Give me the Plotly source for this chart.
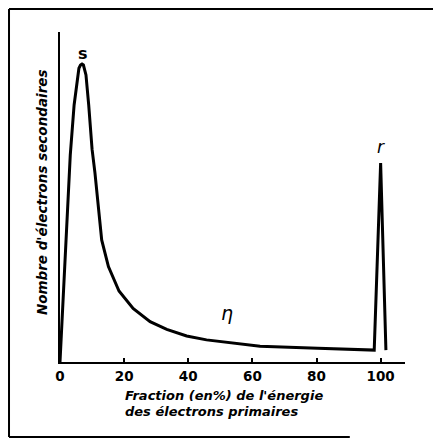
import plotly.graph_objects as go

# Energy fraction (% of primary electron energy) and number of secondary electrons (arb. units)
energy = [0, 1.5, 3.2, 4.4, 5.6, 5.9, 6.4, 6.86, 7.3, 7.64, 8.1, 8.95, 10.0, 10.9, 11.9,
          13.0, 15.1, 18.4, 22.8, 28.1, 33.3, 39.5, 45.7, 53.9, 62.4, 80.4, 97.6, 98.0,
          100.0, 101.65]
count = [0, 30.0, 62.7, 77.9, 87.0, 89.0, 90.0, 90.3, 90.0, 89.0, 87.0, 77.9, 64.5, 57.3, 47.1,
         37.0, 28.9, 21.5, 16.2, 12.2, 9.9, 7.9, 6.7, 5.7, 4.8, 4.2, 3.6, 3.6,
         60.3, 3.6]

tick_vals = [0, 20, 40, 60, 80, 100]
tick_text = ["0", "20", "40", "60", "80", "100"]

peak_labels = ["s", "r", "η"]
peak_label_x = [7.2, 100.2, 52.0]
peak_label_y = [93.6, 65.2, 14.7]

y_title = "Nombre d'électrons secondaires"
x_title_1 = "Fraction (en%) de l'énergie"
x_title_2 = "des électrons primaires"

FONT = "DejaVu Sans"

fig = go.Figure()
fig.add_trace(go.Scatter(x=energy, y=count, mode="lines",
                         line=dict(color="black", width=3), hoverinfo="skip",
                         showlegend=False))

label_fonts = [dict(family=FONT, size=16, color="black", weight="bold"),
               dict(family=FONT, size=17, color="black", style="italic"),
               dict(family=FONT, size=19, color="black", style="italic")]
for t, x, y, f in zip(peak_labels, peak_label_x, peak_label_y, label_fonts):
    fig.add_annotation(x=x, y=y, text=t, showarrow=False, font=f,
                       xanchor="center", yanchor="middle")

fig.add_annotation(xref="paper", yref="paper", x=-0.052, y=0.515, text=y_title,
                   textangle=-90, showarrow=False,
                   font=dict(family=FONT, size=13.5, color="black", weight="bold", style="italic"),
                   xanchor="center", yanchor="middle")
xt_font = dict(family=FONT, size=13, color="black", weight="bold", style="italic")
fig.add_annotation(xref="paper", yref="paper", x=0.1826, y=-0.10, text=x_title_1,
                   showarrow=False, font=xt_font, xanchor="left", yanchor="middle")
fig.add_annotation(xref="paper", yref="paper", x=0.1826, y=-0.1515, text=x_title_2,
                   showarrow=False, font=xt_font, xanchor="left", yanchor="middle")

# outer frame (top, left, bottom)
frame = dict(type="line", xref="paper", yref="paper", line=dict(color="black", width=2))
fig.add_shape(x0=-0.1478, x1=1.11, y0=1.0697, y1=1.0697, **frame)
fig.add_shape(x0=-0.1478, x1=-0.1478, y0=1.0697, y1=-0.2273, **frame)
fig.add_shape(x0=-0.1478, x1=0.84, y0=-0.2273, y1=-0.2273, **frame)

fig.update_xaxes(range=[0, 107.6], showgrid=False, zeroline=False,
                 showline=True, linecolor="black", linewidth=2,
                 tickmode="array", tickvals=tick_vals, ticktext=tick_text,
                 ticks="inside", ticklen=4, tickwidth=1.5, tickcolor="black",
                 ticklabelstandoff=1,
                 tickfont=dict(family=FONT, size=13.5, color="black", weight="bold"))
fig.update_yaxes(range=[0, 100], showgrid=False, zeroline=False,
                 showline=True, linecolor="black", linewidth=2,
                 showticklabels=False, ticks="")

fig.update_layout(width=441, height=431, margin=dict(l=52, r=44, t=24, b=77),
                  paper_bgcolor="white", plot_bgcolor="white")

fig.write_html("out.html")
